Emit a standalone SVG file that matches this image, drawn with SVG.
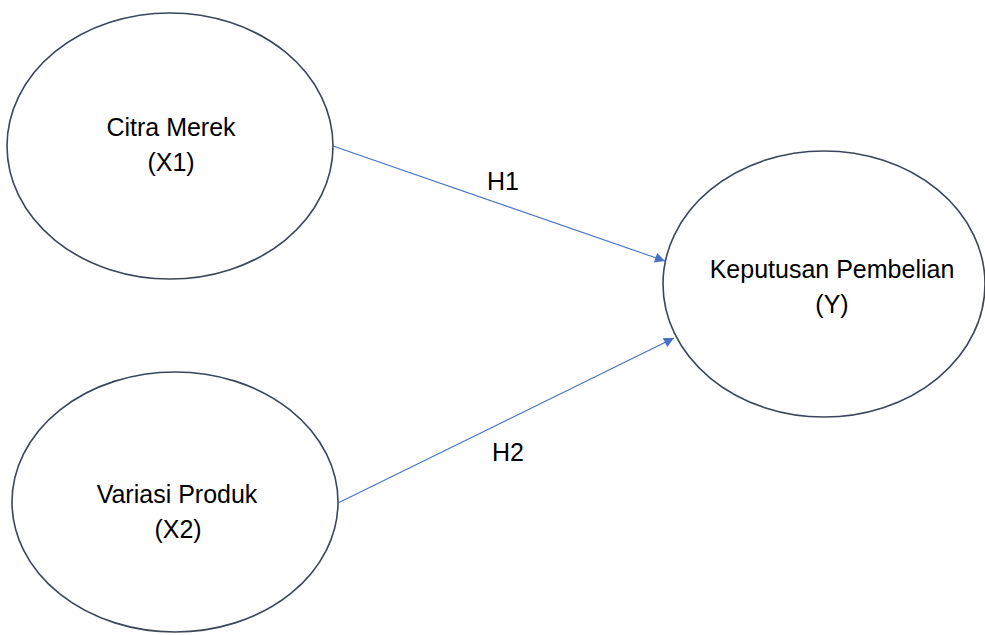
<svg xmlns="http://www.w3.org/2000/svg" width="985" height="635" viewBox="0 0 985 635">
<style>
.node{fill:#ffffff;stroke:#3b4659;stroke-width:1.6}
.lbl{font-family:"Liberation Sans",Arial,sans-serif;font-size:25px;fill:#000000;text-anchor:middle}
.edge{stroke:#4472c4;stroke-width:1.1;fill:none}
</style>
<defs>
<marker id="arr" viewBox="0 0 10 10" refX="10" refY="5" markerWidth="12" markerHeight="10" markerUnits="userSpaceOnUse" orient="auto">
<path d="M0,0 L10,5 L0,10 z" fill="#4472c4"/>
</marker>
</defs>
<rect width="985" height="635" fill="#ffffff"/>
<g id="node-x1">
<ellipse class="node" cx="170" cy="146" rx="163" ry="133"/>
<text class="lbl" x="171" y="136">Citra Merek</text>
<text class="lbl" x="171" y="171">(X1)</text>
</g>
<g id="node-x2">
<ellipse class="node" cx="175" cy="502" rx="163" ry="130"/>
<text class="lbl" x="177" y="503">Variasi Produk</text>
<text class="lbl" x="178" y="538">(X2)</text>
</g>
<g id="node-y">
<ellipse class="node" cx="824" cy="284" rx="161" ry="133"/>
<text class="lbl" x="832" y="278">Keputusan Pembelian</text>
<text class="lbl" x="832" y="313">(Y)</text>
</g>
<g id="connectors">
<line class="edge" x1="333" y1="146" x2="665" y2="261" marker-end="url(#arr)"/>
<line class="edge" x1="338" y1="503" x2="674" y2="338" marker-end="url(#arr)"/>
<text class="lbl" x="503" y="190">H1</text>
<text class="lbl" x="508" y="461">H2</text>
</g>
</svg>
